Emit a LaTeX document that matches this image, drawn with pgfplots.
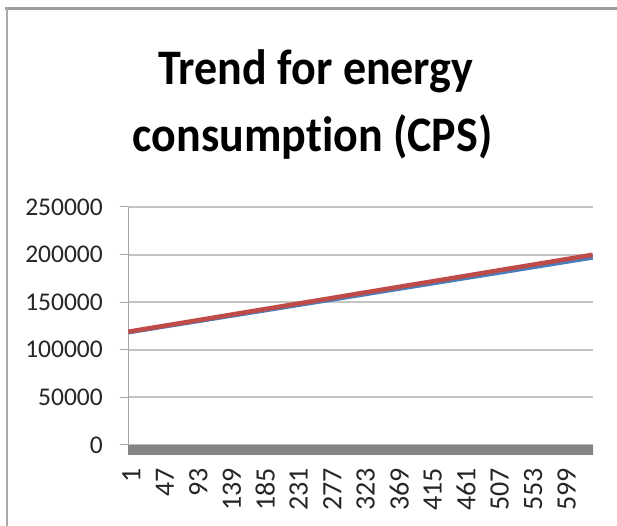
\documentclass[border=0pt]{standalone}
\usepackage{fontspec}
\setmainfont{Carlito}[Ligatures={NoCommon}]
\usepackage{pgfplots}
\usepackage{pgfplotstable}
\pgfplotsset{compat=1.18}

\definecolor{seriesblue}{HTML}{4A7EBB}
\definecolor{seriesred}{HTML}{BE4B48}
\definecolor{gridgray}{HTML}{C4C4C4}
\definecolor{axisgray}{HTML}{A6A6A6}
\definecolor{basegray}{HTML}{858585}
\definecolor{framegray}{HTML}{9C9C9C}

% energy consumption per step: two series
\pgfplotstableread{
k    blue    red
1    118500  119000
47   124200  124800
93   129800  130600
139  135500  136500
185  141100  142300
231  146800  148100
277  152400  153900
323  158100  159800
369  163800  165600
415  169400  171400
461  175100  177200
507  180700  183100
553  186400  188900
599  192100  194700
639  197000  199800
}\energydata

\begin{document}
\begin{tikzpicture}
\useasboundingbox (0,0) rectangle (617bp,526bp);
\fill[white] (0,0) rectangle (617bp,526bp);
% chart frame
\draw[framegray, line width=2.5bp] (5bp,517.5bp) -- (617bp,517.5bp);
\draw[framegray!85, line width=2bp] (7bp,518.5bp) -- (7bp,0bp);
% title
\node[anchor=base, inner sep=0pt, font=\bfseries\fontsize{46bp}{67bp}\selectfont]
  at (316bp,441bp) {\scalebox{1}[1.08]{Trend for energy}};
\node[anchor=base, inner sep=0pt, font=\bfseries\fontsize{46bp}{67bp}\selectfont]
  at (312.5bp,374bp) {\scalebox{1}[1.08]{consumption (CPS)}};

\begin{axis}[
  at={(128bp,81bp)}, anchor=south west,
  scale only axis, width=465bp, height=238bp,
  xmin=0.5, xmax=639.5, ymin=0, ymax=250000,
  clip=false,
  axis x line*=bottom, axis y line*=left,
  axis line style={axisgray, line width=1bp},
  x axis line style={draw=none},
  /pgf/number format/assume math mode=true,
  /pgf/number format/fixed,
  /pgf/number format/precision=0,
  /pgf/number format/set thousands separator={},
  scaled y ticks=false,
  scaled x ticks=false,
  ytick={0,50000,100000,150000,200000,250000},
  xtick={1,47,93,139,185,231,277,323,369,415,461,507,553,599},
  tick align=outside,
  major tick length=8bp,
  y tick style={axisgray, line width=1bp},
  x tick style={draw=none},
  ymajorgrids,
  grid style={gridgray, line width=2bp},
  yticklabel style={font=\fontsize{25.5bp}{30bp}\selectfont, text=black!85,
    anchor=east, inner sep=0pt, xshift=-17bp},
  xticklabel style={font=\fontsize{28bp}{30bp}\selectfont, text=black!85,
    rotate=90, anchor=east, inner sep=0pt, xshift=-15bp, yshift=-3bp},
]
% baseline band under the zero line
\addplot[draw=none, fill=basegray] coordinates
  {(0.5,0) (639.5,0) (639.5,-10500) (0.5,-10500) (0.5,0)};
\addplot[seriesblue, line width=4.5bp] table[x=k, y=blue] {\energydata};
\addplot[seriesred, line width=4.5bp] table[x=k, y=red] {\energydata};
\end{axis}
\end{tikzpicture}
\end{document}
